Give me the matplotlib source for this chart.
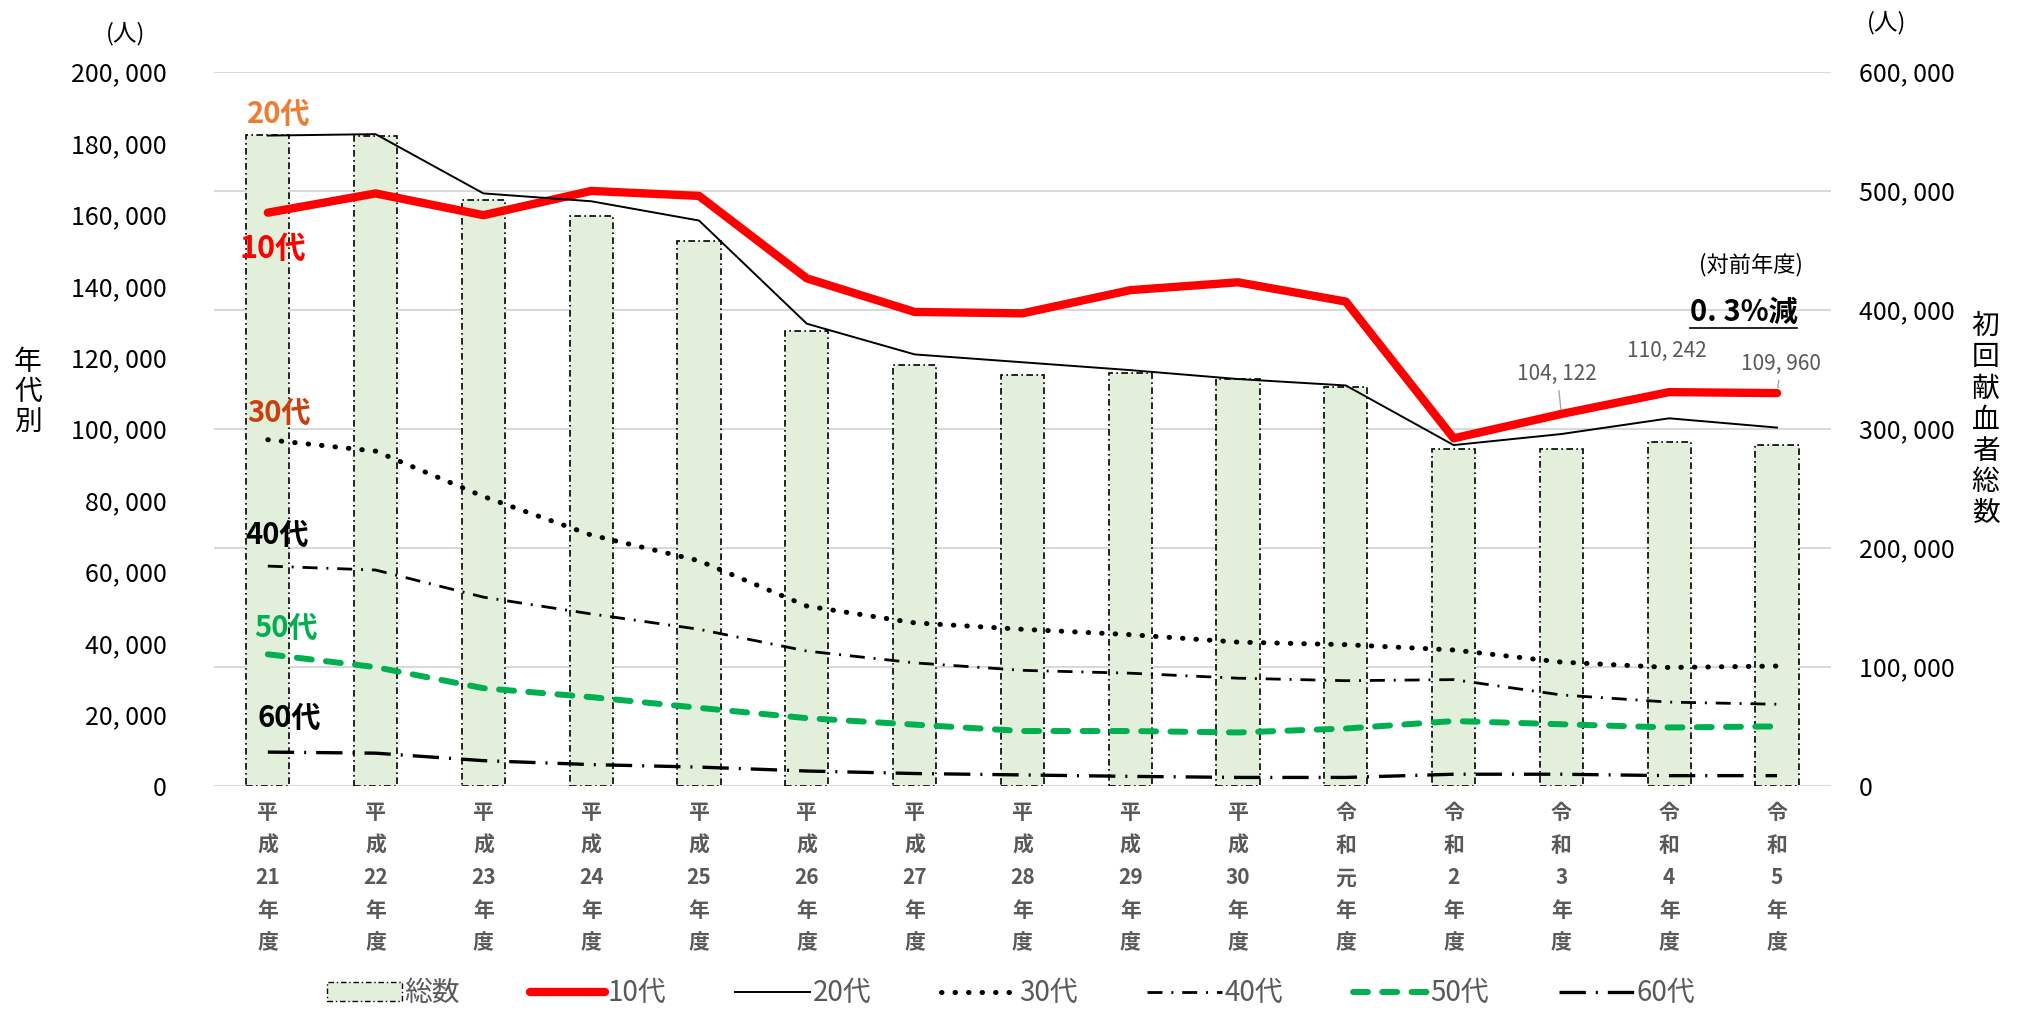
import numpy as np
import matplotlib.pyplot as plt
from matplotlib.patches import Patch
from matplotlib.lines import Line2D
from matplotlib.ticker import FuncFormatter

plt.rcParams['font.family'] = ['Noto Sans CJK JP', 'DejaVu Sans']

years = ['平\n成\n21\n年\n度', '平\n成\n22\n年\n度', '平\n成\n23\n年\n度', '平\n成\n24\n年\n度',
         '平\n成\n25\n年\n度', '平\n成\n26\n年\n度', '平\n成\n27\n年\n度', '平\n成\n28\n年\n度',
         '平\n成\n29\n年\n度', '平\n成\n30\n年\n度', '令\n和\n元\n年\n度', '令\n和\n2\n年\n度',
         '令\n和\n3\n年\n度', '令\n和\n4\n年\n度', '令\n和\n5\n年\n度']

total = [547000, 546000, 492000, 479000, 457600, 381700, 353600, 344900,
         347000, 341700, 335100, 282700, 283000, 288600, 286300]
age10 = [160500, 165900, 159800, 166600, 165200, 142100, 132700, 132300,
         138800, 141000, 135600, 97300, 104122, 110242, 109960]
age20 = [182100, 182500, 165900, 163700, 158300, 129400, 120800, 118600,
         116400, 113900, 112100, 95400, 98500, 102900, 100300]
age30 = [96900, 93700, 81000, 70200, 63000, 50300, 45600, 43800,
         42300, 40200, 39500, 38000, 34600, 33100, 33500]
age40 = [61500, 60400, 52800, 48100, 43800, 37700, 34400, 32300,
         31500, 30100, 29400, 29700, 25400, 23400, 22800]
age50 = [36800, 33200, 27300, 24800, 21800, 18900, 17100, 15300,
         15300, 14900, 16000, 18100, 17200, 16300, 16600]
age60 = [9400, 9100, 7000, 5900, 5200, 4100, 3400, 3000,
         2600, 2300, 2300, 3200, 3200, 2800, 2800]

x = np.arange(len(years))
grey = '#595959'
bar_fill = '#E2EFDA'

fig = plt.figure(figsize=(20.22, 10.11), dpi=100)
ax2 = fig.add_axes([0.1058, 0.2229, 0.7997, 0.7062])  # bars, right scale
ax = ax2.twinx()                                       # lines, left scale
ax2.yaxis.tick_right()
ax.yaxis.tick_left()

# bars (総数)
ax2.bar(x, total, width=0.4, color=bar_fill, edgecolor='black', linewidth=1.2,
        linestyle=(0, (4, 2, 1, 2)), zorder=2)
ax2.set_ylim(0, 600000)
ax2.set_yticks(np.arange(0, 600001, 100000))
ax2.grid(axis='y', color='#D9D9D9', linewidth=1.5, zorder=0)
ax2.set_axisbelow(True)

# lines
ax.plot(x, age10, color='#FF0000', lw=6, solid_capstyle='round', solid_joinstyle='round', zorder=5)
ax.plot(x, age20, color='black', lw=1.4, zorder=5)
ax.plot(x, age30, color='black', lw=3.6, linestyle=(0, (0.1, 2.6)), dash_capstyle='round', zorder=5)
ax.plot(x, age40, color='black', lw=2, linestyle=(0, (5.4, 3.2, 0.7, 3.2)), zorder=5)
ax.plot(x, age50, color='#00B050', lw=4.3, linestyle=(0, (2.5, 2.4)), dash_capstyle='round', zorder=5)
ax.plot(x, age60, color='black', lw=2.4, linestyle=(0, (7.9, 3, 0.6, 3)), zorder=5)
ax.set_ylim(0, 200000)
ax.set_yticks(np.arange(0, 200001, 20000))

ax.set_xlim(-0.5, len(years) - 0.5)
ax2.set_xticks(x)
ax2.set_xticklabels(years, color=grey, fontsize=15, fontweight='bold', linespacing=1.68)
ax2.tick_params(axis='x', length=0, pad=12)

fmt = FuncFormatter(lambda v, p: f'{int(v):,}'.replace(',', ', '))
ax.yaxis.set_major_formatter(fmt)
ax2.yaxis.set_major_formatter(fmt)
ax.tick_params(axis='y', length=0, labelsize=18, pad=34)
ax2.tick_params(axis='y', length=0, labelsize=18, pad=20)

for a in (ax, ax2):
    for s in a.spines.values():
        s.set_visible(False)

# series labels
ax.text(-0.19, 188300, '20代', color='#ED7D31', fontsize=21, fontweight='bold', va='center')
ax.text(-0.26, 150400, '10代', color='#FF0000', fontsize=22, fontweight='bold', va='center')
ax.text(-0.19, 104500, '30代', color='#C9400C', fontsize=21, fontweight='bold', va='center')
ax.text(-0.21, 70200, '40代', color='black', fontsize=21, fontweight='bold', va='center')
ax.text(-0.13, 44200, '50代', color='#00B050', fontsize=21, fontweight='bold', va='center')
ax.text(-0.10, 18900, '60代', color='black', fontsize=21, fontweight='bold', va='center')

# data labels for 10代
lbl_kw = dict(color=grey, fontsize=15, ha='center', va='center')
ax.annotate(f'{age10[12]:,}'.replace(',', ', '), xy=(12, age10[12]), xytext=(11.96, 115300),
            arrowprops=dict(arrowstyle='-', color='#A6A6A6', lw=1, shrinkA=2, shrinkB=0), **lbl_kw)
ax.text(12.98, 121800, f'{age10[13]:,}'.replace(',', ', '), **lbl_kw)
ax.annotate(f'{age10[14]:,}'.replace(',', ', '), xy=(14, age10[14]), xytext=(14.04, 118200),
            arrowprops=dict(arrowstyle='-', color='#A6A6A6', lw=1, shrinkA=2, shrinkB=4), **lbl_kw)

ax.text(13.76, 146000, '(対前年度)', fontsize=16, ha='center', va='center')
t = ax.text(13.69, 132700, '0. 3%減', fontsize=21, fontweight='bold', ha='center', va='center')

# axis titles
fig.text(0.062, 0.967, '(人)', fontsize=17, ha='center', va='center')
fig.text(0.933, 0.978, '(人)', fontsize=17, ha='center', va='center')
fig.text(0.0138, 0.612, '年\n代\n別', fontsize=20, ha='center', va='center', linespacing=1.0)
fig.text(0.982, 0.585, '初\n回\n献\n血\n者\n総\n数', fontsize=20, ha='center', va='center', linespacing=1.05)

# legend
handles = [Patch(facecolor=bar_fill, edgecolor='black', linestyle=(0, (4, 2, 1, 2)), lw=1),
           Line2D([], [], color='#FF0000', lw=6, solid_capstyle='round'),
           Line2D([], [], color='black', lw=1.4),
           Line2D([], [], color='black', lw=3.6, linestyle=(0, (0.1, 2.6)), dash_capstyle='round'),
           Line2D([], [], color='black', lw=2, linestyle=(0, (5.4, 3.2, 0.7, 3.2))),
           Line2D([], [], color='#00B050', lw=4.3, linestyle=(0, (2.5, 2.4)), dash_capstyle='round'),
           Line2D([], [], color='black', lw=2.4, linestyle=(0, (7.9, 3, 0.6, 3)))]
labels = ['総数', '10代', '20代', '30代', '40代', '50代', '60代']
leg = fig.legend(handles, labels, loc='lower center', bbox_to_anchor=(0.5, -0.022), ncol=7,
                 frameon=False, fontsize=20, handlelength=2.7, handletextpad=0.1,
                 columnspacing=2.5)
for txt in leg.get_texts():
    txt.set_color(grey)

# underline for 0.3%減
fig.canvas.draw()
bb = t.get_window_extent()
fig.add_artist(Line2D([bb.x0 / fig.bbox.width, bb.x1 / fig.bbox.width],
                      [(bb.y0 - 1) / fig.bbox.height] * 2, color='black', lw=1.2))

fig.savefig('out.png', dpi=100)
